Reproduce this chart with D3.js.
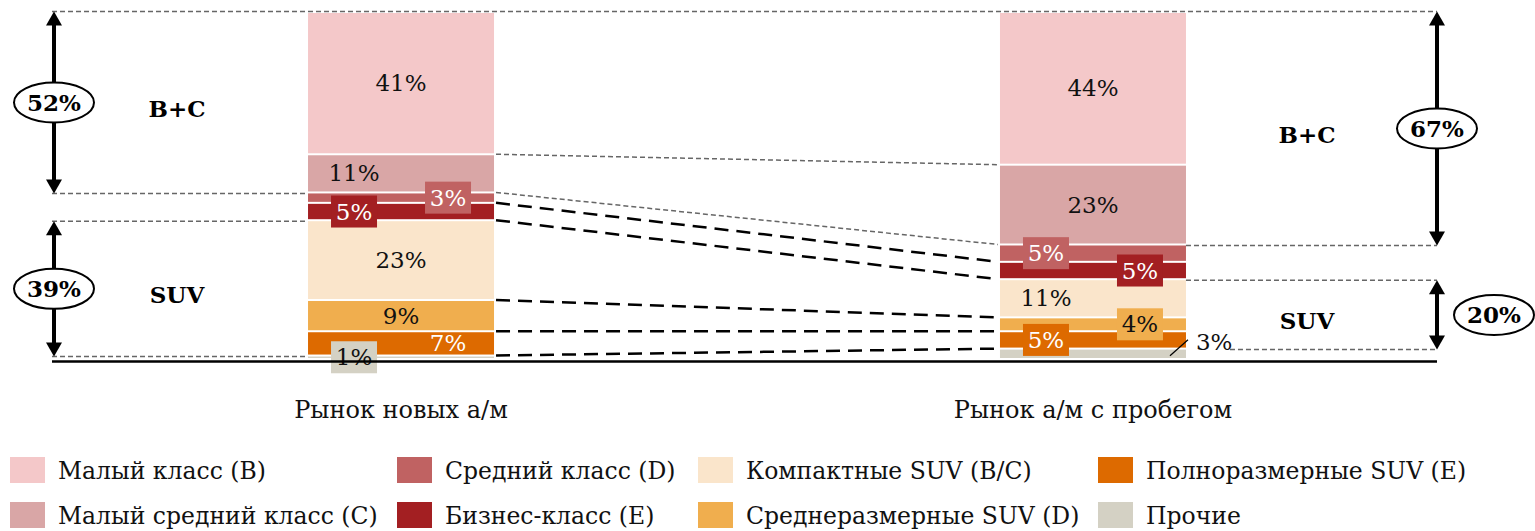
<!DOCTYPE html>
<html>
<head>
<meta charset="utf-8">
<script src="https://cdn.jsdelivr.net/npm/d3@7"></script>
<style>
  body { margin: 0; background: #fff; }
  svg { display: block; font-family: "DejaVu Serif", "Liberation Serif", serif; }
</style>
</head>
<body>
<svg id="chart" width="1535" height="531"></svg>
<script>
const categories = ["Рынок новых а/м", "Рынок а/м с пробегом"];
const segments = [
  "Малый класс (B)",
  "Малый средний класс (C)",
  "Средний класс (D)",
  "Бизнес-класс (E)",
  "Компактные SUV (B/C)",
  "Среднеразмерные SUV (D)",
  "Полноразмерные SUV (E)",
  "Прочие"
];
const newCars = [41, 11, 3, 5, 23, 9, 7, 1];
const usedCars = [44, 23, 5, 5, 11, 4, 5, 3];
const colors = ["#f4c8c9", "#d9a6a6", "#c06262", "#a31f22", "#fae5cb", "#f0ae4e", "#dd6a00", "#d4d1c4"];
const groupNames = ["B+C", "SUV"];
const groupMembers = [[0, 1], [4, 5, 6]];

// where each value label sits (layout, not data)
const labelPlace = [
  ["mid", "left", "boxR", "boxL", "mid", "mid", "textR", "boxL"],
  ["mid", "mid", "boxL", "boxR", "left", "boxR", "boxL", "out"]
];
const whiteText = [false, false, true, true, false, false, true, false];

const svg = d3.select("#chart");
const left = 52, right = 1437;

const table = categories.map((c, i) => {
  const row = { cat: c };
  const vals = i === 0 ? newCars : usedCars;
  segments.forEach((s, j) => (row[s] = vals[j]));
  return row;
});

const stack = d3.stack().keys(segments).order(d3.stackOrderReverse);
const series = stack(table);

const x = d3.scaleBand().domain(categories).range([left, 1442])
  .paddingInner(0.7312).paddingOuter(0.37);
const y = d3.scaleLinear().domain([0, 100]).range([360, 13]);

const dashThin = "5,3";

// top guide line
svg.append("line")
  .attr("x1", left).attr("x2", right)
  .attr("y1", y(100) - 1.5).attr("y2", y(100) - 1.5)
  .attr("stroke", "#666").attr("stroke-width", 1.5).attr("stroke-dasharray", dashThin);

// bars
svg.append("g").selectAll("g")
  .data(series)
  .join("g")
  .attr("fill", (d) => colors[segments.indexOf(d.key)])
  .selectAll("rect")
  .data((d) => d)
  .join("rect")
  .attr("x", (d) => x(d.data.cat))
  .attr("y", (d) => y(d[1]))
  .attr("width", x.bandwidth())
  .attr("height", (d) => Math.max(1, y(d[0]) - y(d[1]) - 2));

// connector lines between bars
const topDown = (vals) => {
  let c = 100;
  return vals.map((v) => (c -= v));
};
const b1 = topDown(newCars), b2 = topDown(usedCars);
const x1r = x(categories[0]) + x.bandwidth(), x2l = x(categories[1]);
svg.append("g").selectAll("line")
  .data(d3.range(7))
  .join("line")
  .attr("x1", x1r + 2).attr("x2", x2l - 2)
  .attr("y1", (k) => y(b1[k]) - 1)
  .attr("y2", (k) => y(b2[k]) - 1)
  .attr("stroke", (k) => (k < 2 ? "#666" : "#000"))
  .attr("stroke-width", (k) => (k < 2 ? 1.5 : 2.5))
  .attr("stroke-dasharray", (k) => (k < 2 ? dashThin : "14,8"));

// value labels
const lab = svg.append("g").attr("font-size", 23);
categories.forEach((c, i) => {
  const vals = i === 0 ? newCars : usedCars;
  const bl = x(c), br = bl + x.bandwidth();
  segments.forEach((s, j) => {
    const ser = series.find((d) => d.key === s)[i];
    const cy = (y(ser[0]) + y(ser[1])) / 2 - 1;
    const p = labelPlace[i][j];
    let cx = (bl + br) / 2;
    if (p === "left" || p === "boxL") cx = bl + 46;
    if (p === "boxR" || p === "textR") cx = br - 46;
    if (p === "out") {
      lab.append("line")
        .attr("x1", br - 16).attr("y1", cy + 2)
        .attr("x2", br + 2).attr("y2", cy - 14)
        .attr("stroke", "#000").attr("stroke-width", 1.2);
      lab.append("text")
        .attr("x", br + 10).attr("y", cy - 12)
        .attr("dy", "0.35em")
        .attr("fill", "#111")
        .text(vals[j] + "%");
      return;
    }
    if (p === "boxL" || p === "boxR") {
      lab.append("rect")
        .attr("x", cx - 23).attr("y", cy - 16)
        .attr("width", 46).attr("height", 32)
        .attr("fill", colors[j]);
    }
    lab.append("text")
      .attr("x", cx).attr("y", cy)
      .attr("dy", "0.35em")
      .attr("text-anchor", "middle")
      .attr("fill", whiteText[j] ? "#fff" : "#111")
      .text(vals[j] + "%");
  });
});

// baseline
svg.append("line")
  .attr("x1", left).attr("x2", right)
  .attr("y1", y(0) + 1.5).attr("y2", y(0) + 1.5)
  .attr("stroke", "#000").attr("stroke-width", 2.5);

// category labels
svg.append("g").selectAll("text")
  .data(categories)
  .join("text")
  .attr("x", (d) => x(d) + x.bandwidth() / 2)
  .attr("y", 418)
  .attr("text-anchor", "middle")
  .attr("font-size", 24)
  .attr("fill", "#111")
  .text((d) => d);

// group annotations: dashed guides, arrows, ellipses
function arrow(g, ax, ya, yb) {
  const h = 14, w = 8;
  g.append("line").attr("x1", ax).attr("x2", ax)
    .attr("y1", ya + h - 1).attr("y2", yb - h + 1)
    .attr("stroke", "#000").attr("stroke-width", 4);
  g.append("path").attr("d", `M${ax},${ya}L${ax - w},${ya + h}L${ax + w},${ya + h}Z`).attr("fill", "#000");
  g.append("path").attr("d", `M${ax},${yb}L${ax - w},${yb - h}L${ax + w},${yb - h}Z`).attr("fill", "#000");
}
function guide(g, xa, xb, yy) {
  g.append("line").attr("x1", xa).attr("x2", xb).attr("y1", yy).attr("y2", yy)
    .attr("stroke", "#666").attr("stroke-width", 1.5).attr("stroke-dasharray", dashThin);
}

const ann = svg.append("g");
categories.forEach((c, i) => {
  const vals = i === 0 ? newCars : usedCars;
  const bl = x(c), br = bl + x.bandwidth();
  const ax = i === 0 ? left + 2 : right;
  const tx = i === 0 ? 177 : 1307;
  groupMembers.forEach((members, gi) => {
    const start = members[0] === 0 ? 0 : d3.sum(vals.slice(0, members[0]));
    const total = d3.sum(members, (m) => vals[m]);
    const yTop = y(100 - start), yBot = y(100 - start - total);
    const ga = yTop - (gi === 0 ? 1.5 : 0), gb = yBot;
    if (i === 0) {
      if (gi > 0) guide(ann, left, bl, ga);
      guide(ann, left, bl, gb);
    } else {
      if (gi > 0) guide(ann, br, right, ga);
      guide(ann, gi === 1 ? br + 44 : br, right, gb);
    }
    arrow(ann, ax, ga, gb);
    const ey = (ga + gb) / 2;
    const ex = i === 1 && gi === 1 ? ax + 57 : ax;
    ann.append("ellipse")
      .attr("cx", ex).attr("cy", ey)
      .attr("rx", 40).attr("ry", 20)
      .attr("fill", "#fff").attr("stroke", "#000").attr("stroke-width", 2);
    ann.append("text")
      .attr("x", ex).attr("y", ey)
      .attr("dy", "0.35em")
      .attr("text-anchor", "middle")
      .attr("font-weight", "bold")
      .attr("font-size", 23)
      .text(total + "%");
    ann.append("text")
      .attr("x", tx).attr("y", ey + 6)
      .attr("dy", "0.35em")
      .attr("text-anchor", "middle")
      .attr("font-weight", "bold")
      .attr("font-size", 23)
      .text(groupNames[gi]);
  });
});

// legend
const colX = [10, 397, 698, 1098];
const legend = svg.append("g").selectAll("g")
  .data(segments)
  .join("g")
  .attr("transform", (d, i) => `translate(${colX[Math.floor(i / 2)]},${457 + (i % 2) * 45})`);
legend.append("rect")
  .attr("width", 35).attr("height", 26)
  .attr("fill", (d, i) => colors[i]);
legend.append("text")
  .attr("x", 48).attr("y", 22)
  .attr("font-size", 23.5)
  .attr("fill", "#111")
  .text((d) => d);
</script>
</body>
</html>
